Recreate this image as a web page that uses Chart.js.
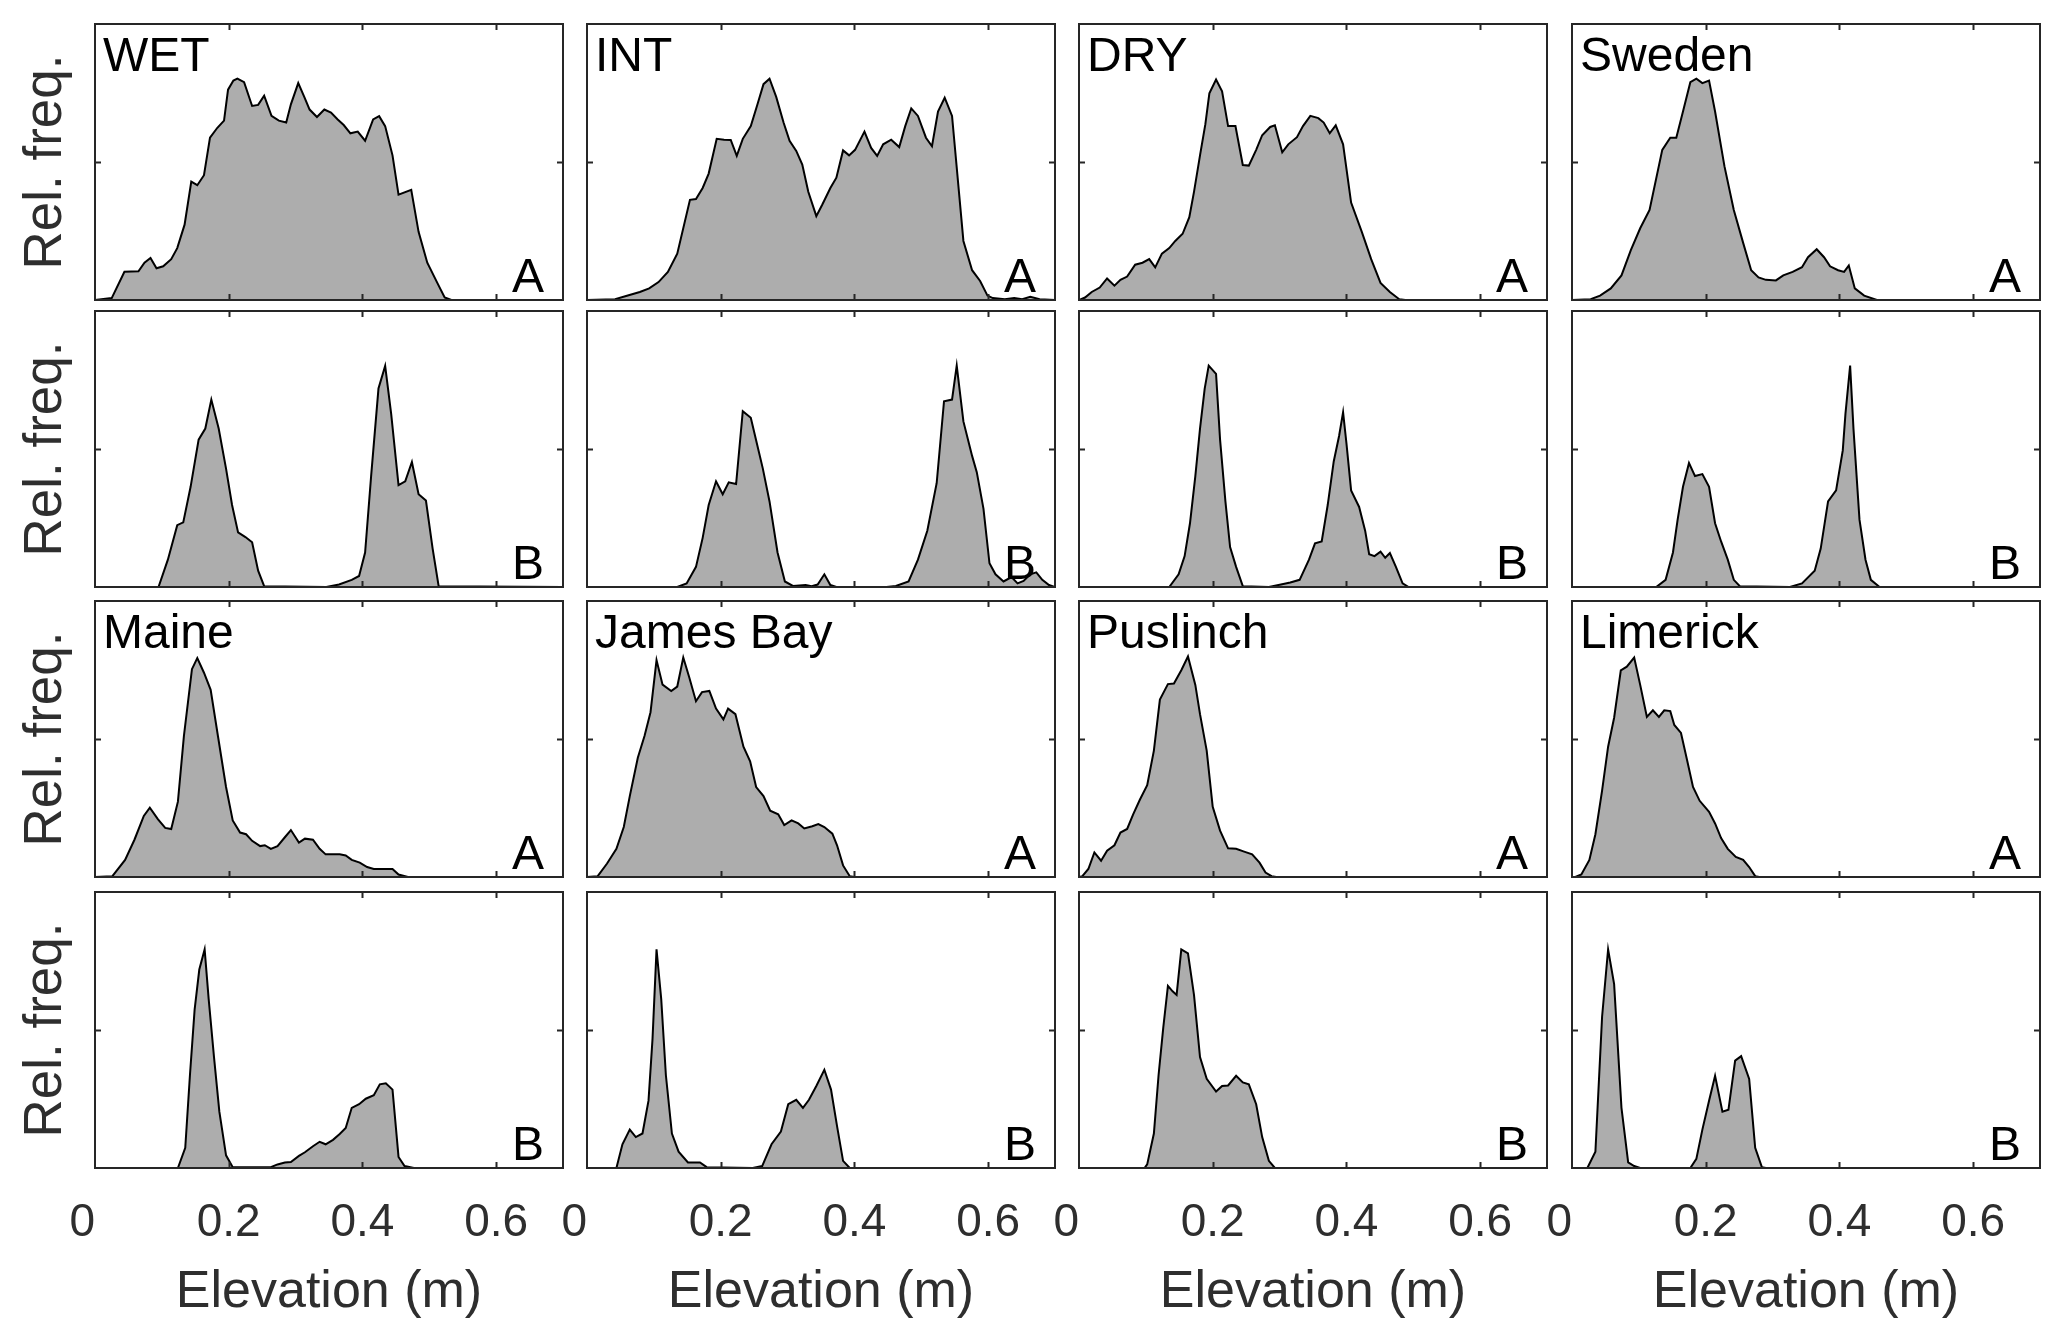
<!DOCTYPE html>
<html>
<head>
<meta charset="utf-8">
<script src="https://cdn.jsdelivr.net/npm/chart.js@4.4.1/dist/chart.umd.min.js"></script>
<style>
  html, body { margin: 0; padding: 0; background: #ffffff; }
  #wrap { position: relative; width: 2067px; height: 1340px; overflow: hidden; background: #fff; }
  #wrap canvas { position: absolute; }
</style>
</head>
<body>
<div id="wrap"></div>
<script>
// ---------------- DATA ----------------
const SITES_TOP = ['WET', 'INT', 'DRY', 'Sweden'];
const SITES_BOTTOM = ['Maine', 'James Bay', 'Puslinch', 'Limerick'];
const XTICKS = [0, 0.2, 0.4, 0.6];
const XTICK_LABELS = ['0  ', '0.2', '0.4', '0.6'];
const YTICKS = [0.5];
const X_TITLE = 'Elevation (m)';
const Y_TITLE = 'Rel. freq.';

// [elevation (m), relative frequency (axis-normalised)]
const WET_A = [[0,0],[0.025,0.007],[0.044,0.102],[0.065,0.104],[0.074,0.135],[0.083,0.152],[0.092,0.115],[0.102,0.122],[0.114,0.148],[0.123,0.188],[0.134,0.273],[0.144,0.429],[0.153,0.416],[0.163,0.452],[0.172,0.588],[0.183,0.624],[0.193,0.650],[0.199,0.762],[0.207,0.795],[0.213,0.802],[0.223,0.789],[0.235,0.703],[0.244,0.707],[0.253,0.740],[0.264,0.667],[0.275,0.650],[0.286,0.643],[0.293,0.709],[0.304,0.786],[0.313,0.736],[0.321,0.690],[0.332,0.663],[0.343,0.690],[0.353,0.679],[0.363,0.654],[0.372,0.634],[0.382,0.604],[0.393,0.610],[0.404,0.577],[0.416,0.654],[0.425,0.666],[0.434,0.630],[0.445,0.524],[0.454,0.382],[0.473,0.399],[0.484,0.247],[0.497,0.135],[0.512,0.062],[0.523,0.009],[0.533,0],[0.7,0]];
const INT_A = [[0,0],[0.042,0.003],[0.061,0.016],[0.079,0.029],[0.093,0.042],[0.107,0.065],[0.121,0.102],[0.135,0.168],[0.154,0.363],[0.163,0.366],[0.173,0.406],[0.182,0.458],[0.194,0.584],[0.205,0.581],[0.215,0.580],[0.224,0.522],[0.233,0.584],[0.245,0.630],[0.255,0.709],[0.264,0.782],[0.273,0.802],[0.283,0.736],[0.294,0.643],[0.303,0.577],[0.313,0.540],[0.322,0.491],[0.331,0.392],[0.343,0.304],[0.352,0.346],[0.364,0.406],[0.373,0.443],[0.383,0.542],[0.392,0.524],[0.401,0.544],[0.415,0.610],[0.425,0.551],[0.434,0.522],[0.443,0.564],[0.455,0.581],[0.467,0.554],[0.476,0.630],[0.485,0.694],[0.495,0.667],[0.507,0.588],[0.516,0.557],[0.525,0.683],[0.535,0.733],[0.546,0.667],[0.563,0.214],[0.576,0.108],[0.588,0.069],[0.599,0.016],[0.607,0.007],[0.625,0.003],[0.639,0.007],[0.651,0.003],[0.663,0.012],[0.677,0.003],[0.7,0]];
const DRY_A = [[0,0],[0.009,0.009],[0.019,0.029],[0.031,0.045],[0.042,0.078],[0.053,0.052],[0.062,0.073],[0.072,0.085],[0.084,0.128],[0.095,0.135],[0.105,0.148],[0.114,0.118],[0.124,0.168],[0.135,0.188],[0.144,0.214],[0.155,0.240],[0.165,0.300],[0.172,0.392],[0.181,0.524],[0.189,0.637],[0.195,0.749],[0.205,0.799],[0.214,0.756],[0.223,0.630],[0.234,0.630],[0.245,0.489],[0.254,0.487],[0.265,0.544],[0.274,0.597],[0.286,0.627],[0.293,0.633],[0.304,0.535],[0.313,0.564],[0.326,0.590],[0.335,0.630],[0.346,0.667],[0.358,0.659],[0.366,0.643],[0.375,0.604],[0.384,0.633],[0.395,0.564],[0.407,0.353],[0.423,0.247],[0.437,0.148],[0.451,0.062],[0.465,0.029],[0.479,0.003],[0.488,0],[0.7,0]];
const SWEDEN_A = [[0,0],[0.028,0.003],[0.042,0.016],[0.058,0.042],[0.074,0.089],[0.088,0.181],[0.102,0.260],[0.116,0.326],[0.135,0.544],[0.147,0.588],[0.156,0.588],[0.166,0.683],[0.177,0.789],[0.186,0.802],[0.195,0.786],[0.205,0.795],[0.214,0.683],[0.228,0.485],[0.242,0.326],[0.256,0.207],[0.268,0.108],[0.279,0.082],[0.290,0.073],[0.305,0.071],[0.316,0.089],[0.330,0.102],[0.344,0.119],[0.353,0.155],[0.366,0.184],[0.377,0.155],[0.386,0.122],[0.398,0.108],[0.407,0.102],[0.414,0.125],[0.423,0.042],[0.437,0.016],[0.456,0],[0.7,0]];

const WET_B = [[0,0],[0.095,0],[0.109,0.099],[0.123,0.224],[0.132,0.234],[0.143,0.363],[0.155,0.534],[0.165,0.574],[0.174,0.679],[0.185,0.574],[0.196,0.429],[0.205,0.297],[0.214,0.198],[0.225,0.181],[0.235,0.162],[0.244,0.059],[0.253,0.003],[0.346,0],[0.365,0.009],[0.384,0.026],[0.395,0.040],[0.404,0.125],[0.413,0.402],[0.424,0.719],[0.434,0.801],[0.443,0.627],[0.454,0.369],[0.464,0.383],[0.474,0.453],[0.484,0.336],[0.495,0.313],[0.505,0.139],[0.514,0.003],[0.7,0]];
const INT_B = [[0,0],[0.135,0],[0.149,0.013],[0.163,0.073],[0.173,0.178],[0.182,0.297],[0.193,0.383],[0.203,0.336],[0.212,0.379],[0.223,0.373],[0.233,0.637],[0.245,0.613],[0.254,0.521],[0.263,0.429],[0.273,0.310],[0.285,0.125],[0.296,0.020],[0.308,0.004],[0.327,0.007],[0.336,0.003],[0.345,0.009],[0.355,0.046],[0.364,0.007],[0.373,0],[0.448,0],[0.462,0.004],[0.481,0.020],[0.495,0.099],[0.509,0.204],[0.523,0.376],[0.534,0.673],[0.546,0.679],[0.553,0.802],[0.563,0.600],[0.576,0.475],[0.583,0.416],[0.593,0.284],[0.602,0.086],[0.611,0.046],[0.623,0.020],[0.635,0.036],[0.644,0.013],[0.653,0.022],[0.663,0.046],[0.672,0.053],[0.681,0.026],[0.691,0.007],[0.7,0]];
const DRY_B = [[0,0],[0.135,0],[0.149,0.046],[0.158,0.112],[0.166,0.231],[0.174,0.402],[0.181,0.574],[0.188,0.719],[0.194,0.802],[0.205,0.772],[0.211,0.534],[0.219,0.310],[0.226,0.145],[0.235,0.073],[0.245,0.003],[0.284,0],[0.302,0.009],[0.316,0.016],[0.330,0.026],[0.344,0.099],[0.353,0.158],[0.363,0.165],[0.372,0.297],[0.381,0.455],[0.389,0.547],[0.395,0.633],[0.400,0.521],[0.407,0.350],[0.419,0.290],[0.428,0.204],[0.434,0.119],[0.442,0.112],[0.451,0.128],[0.458,0.106],[0.465,0.123],[0.474,0.073],[0.484,0.013],[0.493,0],[0.7,0]];
const SWEDEN_B = [[0,0],[0.126,0],[0.140,0.026],[0.151,0.125],[0.158,0.244],[0.166,0.363],[0.175,0.449],[0.184,0.402],[0.195,0.409],[0.205,0.363],[0.214,0.231],[0.223,0.165],[0.233,0.099],[0.242,0.026],[0.251,0.003],[0.326,0],[0.344,0.013],[0.363,0.059],[0.372,0.139],[0.383,0.310],[0.395,0.350],[0.405,0.495],[0.409,0.627],[0.416,0.802],[0.421,0.574],[0.430,0.244],[0.439,0.099],[0.447,0.026],[0.460,0],[0.7,0]];

const MAINE_A = [[0,0],[0.026,0.003],[0.045,0.062],[0.059,0.135],[0.073,0.221],[0.082,0.251],[0.094,0.210],[0.105,0.178],[0.114,0.174],[0.124,0.273],[0.133,0.511],[0.145,0.753],[0.153,0.793],[0.163,0.740],[0.173,0.678],[0.184,0.509],[0.196,0.326],[0.206,0.205],[0.217,0.161],[0.226,0.155],[0.235,0.131],[0.247,0.112],[0.254,0.115],[0.263,0.102],[0.273,0.112],[0.284,0.144],[0.293,0.170],[0.305,0.125],[0.314,0.139],[0.326,0.135],[0.336,0.102],[0.345,0.082],[0.366,0.082],[0.375,0.078],[0.384,0.062],[0.396,0.052],[0.407,0.036],[0.417,0.029],[0.445,0.029],[0.454,0.009],[0.468,0],[0.7,0]];
const JAMESBAY_A = [[0,0],[0.016,0.003],[0.030,0.049],[0.044,0.102],[0.055,0.181],[0.064,0.293],[0.076,0.432],[0.086,0.511],[0.095,0.597],[0.104,0.786],[0.113,0.697],[0.126,0.674],[0.135,0.690],[0.144,0.795],[0.153,0.723],[0.163,0.637],[0.172,0.670],[0.183,0.674],[0.193,0.610],[0.204,0.571],[0.211,0.610],[0.222,0.590],[0.234,0.472],[0.244,0.419],[0.253,0.326],[0.264,0.293],[0.274,0.240],[0.286,0.227],[0.295,0.188],[0.306,0.205],[0.316,0.194],[0.325,0.176],[0.337,0.184],[0.346,0.192],[0.355,0.181],[0.367,0.157],[0.374,0.115],[0.383,0.042],[0.393,0.003],[0.40,0],[0.7,0]];
const PUSLINCH_A = [[0,0],[0.005,0.003],[0.014,0.029],[0.023,0.089],[0.033,0.059],[0.042,0.095],[0.053,0.115],[0.062,0.161],[0.072,0.174],[0.081,0.227],[0.091,0.280],[0.102,0.333],[0.112,0.458],[0.121,0.643],[0.133,0.699],[0.142,0.701],[0.153,0.749],[0.163,0.799],[0.174,0.696],[0.181,0.590],[0.191,0.458],[0.200,0.254],[0.211,0.168],[0.223,0.104],[0.235,0.102],[0.247,0.092],[0.259,0.082],[0.270,0.052],[0.279,0.016],[0.288,0.003],[0.295,0],[0.7,0]];
const LIMERICK_A = [[0,0],[0.005,0],[0.014,0.009],[0.026,0.062],[0.035,0.155],[0.045,0.313],[0.054,0.472],[0.063,0.577],[0.073,0.749],[0.082,0.762],[0.093,0.795],[0.102,0.696],[0.112,0.580],[0.121,0.604],[0.130,0.580],[0.138,0.604],[0.147,0.601],[0.153,0.551],[0.163,0.522],[0.172,0.425],[0.181,0.326],[0.191,0.276],[0.205,0.236],[0.214,0.194],[0.223,0.141],[0.233,0.102],[0.245,0.073],[0.256,0.062],[0.265,0.036],[0.274,0.003],[0.28,0],[0.7,0]];

const MAINE_B = [[0,0],[0.124,0],[0.135,0.073],[0.142,0.336],[0.149,0.574],[0.156,0.719],[0.164,0.792],[0.170,0.613],[0.178,0.402],[0.186,0.204],[0.196,0.046],[0.206,0.003],[0.263,0.003],[0.273,0.013],[0.284,0.020],[0.293,0.022],[0.305,0.044],[0.314,0.057],[0.326,0.079],[0.336,0.095],[0.345,0.086],[0.356,0.102],[0.366,0.123],[0.375,0.145],[0.384,0.218],[0.395,0.231],[0.405,0.251],[0.417,0.264],[0.426,0.303],[0.435,0.307],[0.445,0.284],[0.454,0.040],[0.463,0.007],[0.477,0],[0.7,0]];
const JAMESBAY_B = [[0,0],[0.044,0],[0.053,0.086],[0.064,0.139],[0.073,0.112],[0.083,0.125],[0.092,0.244],[0.098,0.468],[0.104,0.792],[0.111,0.613],[0.118,0.336],[0.127,0.125],[0.137,0.059],[0.151,0.020],[0.169,0.020],[0.179,0.003],[0.248,0],[0.262,0.007],[0.276,0.086],[0.290,0.132],[0.301,0.231],[0.313,0.247],[0.323,0.218],[0.332,0.247],[0.343,0.297],[0.355,0.356],[0.365,0.284],[0.374,0.152],[0.383,0.026],[0.393,0],[0.7,0]];
const PUSLINCH_B = [[0,0],[0.098,0],[0.102,0.013],[0.112,0.125],[0.119,0.336],[0.126,0.508],[0.133,0.660],[0.140,0.640],[0.146,0.627],[0.153,0.792],[0.163,0.778],[0.172,0.627],[0.181,0.402],[0.191,0.323],[0.205,0.277],[0.214,0.297],[0.223,0.299],[0.235,0.334],[0.245,0.310],[0.254,0.303],[0.265,0.231],[0.274,0.112],[0.284,0.026],[0.293,0],[0.7,0]];
const LIMERICK_B = [[0,0],[0.023,0],[0.035,0.059],[0.045,0.548],[0.054,0.792],[0.063,0.666],[0.074,0.218],[0.084,0.020],[0.093,0.007],[0.102,0],[0.177,0],[0.186,0.033],[0.195,0.139],[0.205,0.244],[0.214,0.334],[0.225,0.204],[0.234,0.211],[0.244,0.389],[0.253,0.405],[0.265,0.323],[0.274,0.073],[0.284,0.003],[0.29,0],[0.7,0]];

const SERIES_GRID = [
  [WET_A, INT_A, DRY_A, SWEDEN_A],
  [WET_B, INT_B, DRY_B, SWEDEN_B],
  [MAINE_A, JAMESBAY_A, PUSLINCH_A, LIMERICK_A],
  [MAINE_B, JAMESBAY_B, PUSLINCH_B, LIMERICK_B]
];

// ---------------- LAYOUT / STYLE ----------------
const COL_LEFT = [95, 587, 1079, 1572];
const ROW_TOP = [24, 311, 601, 892];
const PW = 468, PH = 276;
const PAD_L = 95, PAD_T = 24, PAD_R = 26, PAD_B = 172;
const FONT = '"Liberation Sans", Arial, Helvetica, sans-serif';
const AXIS_COLOR = '#262626';

const framePlugin = {
  id: 'frame',
  afterDatasetsDraw(chart, args, opts) {
    const { ctx, chartArea: { left, top, right, bottom }, scales: { x, y } } = chart;
    ctx.save();
    ctx.strokeStyle = AXIS_COLOR;
    ctx.lineWidth = 2;
    ctx.beginPath();
    const tl = 6;
    XTICKS.forEach(v => {
      if (v <= x.min || v >= x.max) return;
      const px = Math.round(x.getPixelForValue(v)) + 0.5;
      ctx.moveTo(px, bottom); ctx.lineTo(px, bottom - tl);
      ctx.moveTo(px, top); ctx.lineTo(px, top + tl);
    });
    YTICKS.forEach(v => {
      const py = Math.round(y.getPixelForValue(v)) + 0.5;
      ctx.moveTo(left, py); ctx.lineTo(left + tl, py);
      ctx.moveTo(right, py); ctx.lineTo(right - tl, py);
    });
    ctx.stroke();
    ctx.strokeRect(left, top, right - left, bottom - top);
    ctx.fillStyle = '#000';
    ctx.font = '48px ' + FONT;
    ctx.textBaseline = 'alphabetic';
    if (opts.name) {
      ctx.textAlign = 'left';
      ctx.fillText(opts.name, left + 8, top + 47);
    }
    ctx.textAlign = 'right';
    ctx.fillText(opts.letter, right - 19, bottom - 8);
    ctx.restore();
  }
};

const wrap = document.getElementById('wrap');
for (let r = 0; r < 4; r++) {
  for (let c = 0; c < 4; c++) {
    const canvas = document.createElement('canvas');
    const w = PAD_L + PW + PAD_R, h = PAD_T + PH + PAD_B;
    canvas.width = w; canvas.height = h;
    canvas.style.width = w + 'px'; canvas.style.height = h + 'px';
    canvas.style.left = (COL_LEFT[c] - PAD_L) + 'px';
    canvas.style.top = (ROW_TOP[r] - PAD_T) + 'px';
    wrap.appendChild(canvas);

    const isBottom = r === 3;
    const isLeft = c === 0;
    const site = r < 2 ? SITES_TOP[c] : SITES_BOTTOM[c];
    const letter = r % 2 === 0 ? 'A' : 'B';
    const pts = SERIES_GRID[r][c].map(p => ({ x: p[0], y: p[1] }));

    new Chart(canvas, {
      type: 'scatter',
      data: {
        datasets: [{
          data: pts,
          showLine: true,
          fill: 'origin',
          backgroundColor: '#adadad',
          borderColor: '#000000',
          borderWidth: 2,
          pointRadius: 0,
          pointHoverRadius: 0,
          tension: 0
        }]
      },
      options: {
        responsive: false,
        animation: false,
        devicePixelRatio: 1,
        events: [],
        layout: { padding: { top: PAD_T, right: PAD_R, left: 0, bottom: 0 } },
        plugins: {
          legend: { display: false },
          tooltip: { enabled: false },
          frame: { name: r % 2 === 0 ? site : '', letter: letter }
        },
        scales: {
          x: {
            type: 'linear', min: 0, max: 0.7, position: 'bottom',
            grid: { display: false, drawTicks: false },
            border: { display: false },
            afterBuildTicks: s => { s.ticks = XTICKS.map(v => ({ value: v })); },
            afterFit: s => { s.height = PAD_B; },
            ticks: {
              display: isBottom, autoSkip: false, maxRotation: 0, minRotation: 0,
              padding: 28, color: '#2e2e2e',
              font: { family: FONT, size: 46 },
              callback: (v, i) => XTICK_LABELS[i]
            },
            title: {
              display: isBottom, text: X_TITLE, color: '#2e2e2e',
              font: { family: FONT, size: 52 },
              padding: { top: 0, bottom: 16 }
            }
          },
          y: {
            type: 'linear', min: 0, max: 1, position: 'left',
            grid: { display: false, drawTicks: false },
            border: { display: false },
            afterFit: s => { s.width = PAD_L; },
            ticks: { display: false },
            title: {
              display: isLeft, text: Y_TITLE, color: '#2e2e2e',
              font: { family: FONT, size: 53 },
              padding: { top: 15, bottom: 0 }
            }
          }
        }
      },
      plugins: [framePlugin]
    });
  }
}
</script>
</body>
</html>
